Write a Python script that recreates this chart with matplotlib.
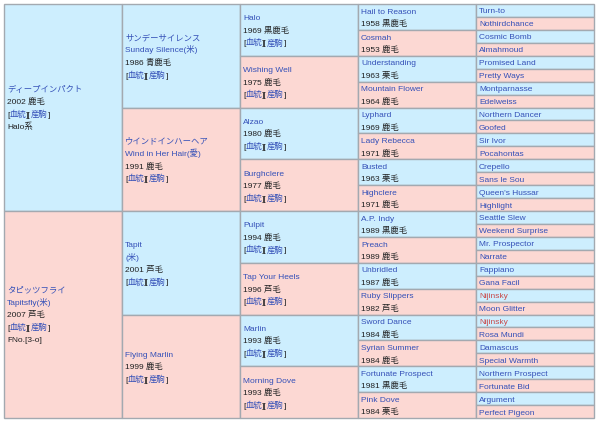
import matplotlib
matplotlib.use("Agg")
import matplotlib.pyplot as plt
from matplotlib.patches import Rectangle

plt.rcParams['font.family'] = ['Liberation Sans', 'Noto Sans CJK JP', 'DejaVu Sans']

LINKS = "[血統][産駒]"

gen1 = [
    ["ディープインパクト", "2002 鹿毛", LINKS, "Halo系"],
    ["タピッツフライ", "Tapitsfly(米)", "2007 芦毛", LINKS, "FNo.[3-o]"],
]
gen2 = [
    ["サンデーサイレンス", "Sunday Silence(米)", "1986 青鹿毛", LINKS],
    ["ウインドインハーヘア", "Wind in Her Hair(愛)", "1991 鹿毛", LINKS],
    ["Tapit", "(米)", "2001 芦毛", LINKS],
    ["Flying Marlin", "1999 鹿毛", LINKS],
]
gen3_names = ["Halo", "Wishing Well", "Alzao", "Burghclere",
              "Pulpit", "Tap Your Heels", "Marlin", "Morning Dove"]
gen3_years = ["1969 黒鹿毛", "1975 鹿毛", "1980 鹿毛", "1977 鹿毛",
              "1994 鹿毛", "1996 芦毛", "1993 鹿毛", "1993 鹿毛"]
gen4_names = ["Hail to Reason", "Cosmah", "Understanding", "Mountain Flower",
              "Lyphard", "Lady Rebecca", "Busted", "Highclere",
              "A.P. Indy", "Preach", "Unbridled", "Ruby Slippers",
              "Sword Dance", "Syrian Summer", "Fortunate Prospect", "Pink Dove"]
gen4_years = ["1958 黒鹿毛", "1953 鹿毛", "1963 栗毛", "1964 鹿毛",
              "1969 鹿毛", "1971 鹿毛", "1963 栗毛", "1971 鹿毛",
              "1989 黒鹿毛", "1989 鹿毛", "1987 鹿毛", "1982 芦毛",
              "1984 鹿毛", "1984 鹿毛", "1981 黒鹿毛", "1984 栗毛"]
gen5_names = ["Turn-to", "Nothirdchance", "Cosmic Bomb", "Almahmoud",
              "Promised Land", "Pretty Ways", "Montparnasse", "Edelweiss",
              "Northern Dancer", "Goofed", "Sir Ivor", "Pocahontas",
              "Crepello", "Sans le Sou", "Queen's Hussar", "Highlight",
              "Seattle Slew", "Weekend Surprise", "Mr. Prospector", "Narrate",
              "Fappiano", "Gana Facil", "Nijinsky", "Moon Glitter",
              "Nijinsky", "Rosa Mundi", "Damascus", "Special Warmth",
              "Northern Prospect", "Fortunate Bid", "Argument", "Perfect Pigeon"]
inbred = ["Nijinsky"]

BLUE_BG = '#cdeefe'
PINK_BG = '#fcd8d3'
EDGE = '#a3a9b0'
LINK = '#3450b8'
TEXT = '#202122'
RED = '#c94a4a'
FS = 6.0
LINE_H = 12.5
BASE_OFF = 3.0

W, H = 600, 422
fig = plt.figure(figsize=(W / 100, H / 100), dpi=100)
ax = fig.add_axes([0, 0, 1, 1])
ax.set_xlim(0, W)
ax.set_ylim(H, 0)
ax.axis('off')
renderer = fig.canvas.get_renderer()

LEFT, TOP, BOTTOM = 4, 4, 418
COL_W = 118
ROW_H = (BOTTOM - TOP) / 32.0


def line_parts(line, is_name):
    if line == LINKS:
        return [("[", TEXT), ("血統", LINK), ("][", TEXT), ("産駒", LINK), ("]", TEXT)]
    if is_name:
        return [(line, RED if line in inbred else LINK)]
    return [(line, TEXT)]


def draw_line(x, y, parts):
    for s, c in parts:
        t = ax.text(x, y + BASE_OFF, s, fontsize=FS, color=c,
                    va='baseline', ha='left')
        bb = t.get_window_extent(renderer)
        x += bb.width


def is_name_line(line):
    if line == LINKS:
        return False
    if line[:1].isdigit():
        return False
    if line.endswith("系") or line.startswith("FNo."):
        return False
    return True


def draw_cell(col, idx, nrows, lines):
    x0 = LEFT + col * COL_W
    y0 = TOP + idx * nrows * ROW_H
    h = nrows * ROW_H
    ax.add_patch(Rectangle((x0, y0), COL_W, h,
                           facecolor=BLUE_BG if idx % 2 == 0 else PINK_BG,
                           edgecolor=EDGE, linewidth=1.0))
    cy = y0 + h / 2
    n = len(lines)
    for i, ln in enumerate(lines):
        y = cy + (i - (n - 1) / 2) * LINE_H
        draw_line(x0 + 3, y, line_parts(ln, is_name_line(ln)))


for i, cell in enumerate(gen1):
    draw_cell(0, i, 16, cell)
for i, cell in enumerate(gen2):
    draw_cell(1, i, 8, cell)
for i in range(len(gen3_names)):
    draw_cell(2, i, 4, [gen3_names[i], gen3_years[i], LINKS])
for i in range(len(gen4_names)):
    draw_cell(3, i, 2, [gen4_names[i], gen4_years[i]])
for i, nm in enumerate(gen5_names):
    draw_cell(4, i, 1, [nm])

fig.savefig("out.png", dpi=100, facecolor='white')
